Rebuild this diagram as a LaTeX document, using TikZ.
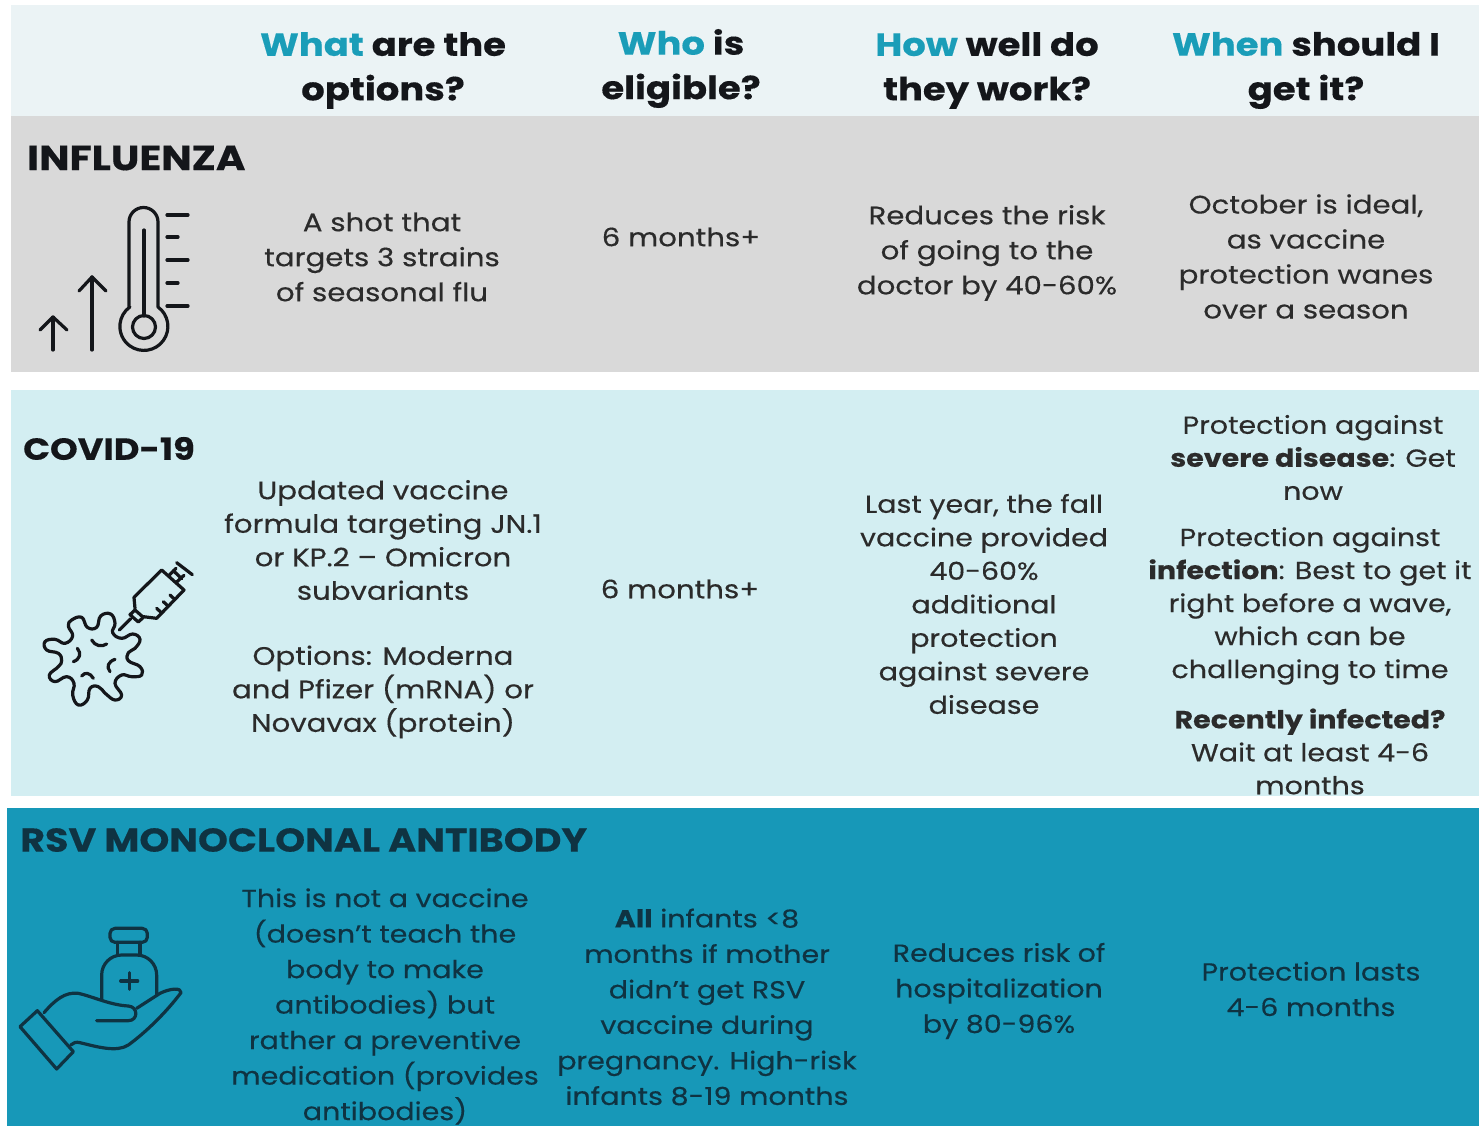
\documentclass[tikz,border=0pt]{standalone}
\usepackage{fontspec}
\setmainfont{Poppins}[FakeStretch=1.155,FakeBold=0.35,BoldFont={Poppins Bold},BoldFeatures={FakeStretch=1.155}]
\definecolor{hdrbg}{HTML}{EBF3F5}
\definecolor{graybg}{HTML}{D9D9D9}
\definecolor{lightbg}{HTML}{D3EEF2}
\definecolor{tealbg}{HTML}{1798B8}
\definecolor{teala}{HTML}{1A9DB8}
\definecolor{ink}{HTML}{2B2B2B}
\definecolor{inkb}{HTML}{14161A}
\definecolor{inkt}{HTML}{0F3342}
\newcommand{\acc}[1]{\textcolor{teala}{#1}}
\tikzset{
  band/.style={fill=#1,draw=none},
  headtxt/.style={align=center,inner sep=0pt,text=inkb,font=\fontsize{32}{44.5}\selectfont\bfseries},
  body/.style={align=center,inner sep=0pt,text=ink,font=\fontsize{25.3}{#1}\selectfont},
  body/.default={35},
  bodyn/.style={align=center,inner sep=0pt,text=ink,font=\fontsize{24.7}{#1}\selectfont},
  bodyn/.default={35.5},
  sect/.style={anchor=west,inner sep=0pt,text=inkb,font=\fontsize{35}{38}\selectfont\bfseries},
  icon/.style={draw=inkb,line width=3.2pt,line cap=round,line join=round},
  iconv/.style={draw=#1,line width=3.2pt,line cap=round,line join=round},
}
\begin{document}
\begin{tikzpicture}[x=1pt,y=-1pt]
\useasboundingbox (0,0) rectangle (1479,1126);
\fill[white] (0,0) rectangle (1479,1126);
\path[band=hdrbg] (11,5) rectangle (1479,116);
\path[band=graybg] (11,116) rectangle (1479,372);
\path[band=lightbg] (11,390) rectangle (1479,796);
\path[band=tealbg] (7,808) rectangle (1479,1126);

% header
\node[headtxt] (h1) at (383,70.5) {\acc{What} are the\\options?};
\node[headtxt] (h2) at (681,68.5) {\acc{Who} is\\eligible?};
\node[headtxt] (h3) at (987,70.5) {\acc{How} well do\\they work?};
\node[headtxt] (h4) at (1306,70.5) {\acc{When} should I\\get it?};

% influenza
\node[sect] (s1) at (27,158) {INFLUENZA};
\node[body] (a1) at (382,257) {A shot that\\targets 3 strains\\of seasonal flu};
\node[body] (b1) at (681,237) {6 months+};
\node[body] (c1) at (987,253) {Reduces the risk\\of going to the\\doctor by 40-60\%};
\node[body] (d1) at (1306,256.5) {October is ideal,\\as vaccine\\protection wanes\\over a season};

% covid
\node[sect,font=\fontsize{30.5}{34}\selectfont\bfseries] (s2) at (23,448.5) {COVID-19};
\node[body=33.5] (a2) at (383,540) {Updated vaccine\\formula targeting JN.1\\or KP.2 – Omicron\\subvariants};
\node[body=33.5] (a3) at (383,692) {Options: Moderna\\and Pfizer (mRNA) or\\Novavax (protein)};
\node[body] (b2) at (680,589) {6 months+};
\node[bodyn=33.5] (c2) at (984,604) {Last year, the fall\\vaccine provided\\40-60\%\\additional\\protection\\against severe\\disease};
\node[bodyn=33] (d2) at (1313,457.5) {Protection against\\\textbf{severe disease}: Get\\now};
\node[bodyn=33] (d3) at (1310,606) {Protection against\\\textbf{infection}: Best to get it\\right before a wave,\\which can be\\challenging to time};
\node[bodyn=33] (d4) at (1310,751.5) {\textbf{Recently infected?}\\Wait at least 4-6\\months};

% rsv
\node[sect,text=inkt,font=\fontsize{33}{36}\selectfont\bfseries] (s3) at (20,840) {RSV MONOCLONAL ANTIBODY};
\node[bodyn,text=inkt] (a4) at (385,1006.5) {This is not a vaccine\\(doesn't teach the\\body to make\\antibodies) but\\rather a preventive\\medication (provides\\antibodies)};
\node[bodyn,text=inkt] (b3) at (707,1007) {\textbf{All} infants <8\\months if mother\\didn't get RSV\\vaccine during\\pregnancy. High-risk\\infants 8-19 months};
\node[bodyn,text=inkt] (c3) at (999,991) {Reduces risk of\\hospitalization\\by 80-96\%};
\node[bodyn,text=inkt] (d5) at (1311,989) {Protection lasts\\4-6 months};

% thermometer icon
\begin{scope}[icon]
  \draw (129,307) -- (129,222) arc[start angle=180,end angle=360,radius=14.5] -- (158,307)
        arc[start angle=-54,end angle=234,radius=24] -- cycle;
  \draw (144,327) circle[radius=11.5];
  \draw (144,230) -- (144,316);
  \draw (167,215) -- (188,215);
  \draw (167,237) -- (178,237);
  \draw (167,260) -- (188,260);
  \draw (167,283) -- (178,283);
  \draw (167,306) -- (188,306);
  \draw (92,350) -- (92,277);
  \draw (79,291) -- (92,277) -- (106,291);
  \draw (53,350) -- (53,317);
  \draw (40,330) -- (53,317) -- (67,330);
\end{scope}

% virus and syringe icon (coordinates in 3x crop units)
\begin{scope}[shift={(0,540)},x=0.33333pt,y=-0.33333pt]
  \draw[icon] plot[smooth cycle,tension=0.75] coordinates {
    (215,240)(245,232)(262,262)(290,262)(302,228)(332,222)(345,250)(338,278)
    (365,295)(398,282)(420,298)(405,325)(385,338)(385,362)(420,380)(425,405)(395,410)(365,405)
    (345,430)(365,465)(345,480)(318,462)(295,440)(270,445)(262,480)(235,495)(218,465)(222,430)
    (200,410)(165,425)(148,405)(175,380)(185,362)(175,340)(140,330)(135,305)(165,298)(195,310)
    (218,288)(205,258)};
  \draw[icon] (275,300) .. controls (285,318) and (305,322) .. (320,312);
  \draw[icon] (232,325) .. controls (245,340) and (240,358) .. (220,365);
  \draw[icon] (345,358) .. controls (325,365) and (318,380) .. (330,395);
  \draw[icon] (245,408) .. controls (255,395) and (270,398) .. (280,415);
  % syringe
  \draw[icon] (358,270) -- (392,236);
  \draw[icon] (390,224) -- (415,246) -- (430,232) -- (405,210) -- cycle;
  \draw[icon] (405,205) -- (402,172) -- (485,90) -- (552,150) -- (470,235) -- (430,230);
  \draw[icon] (508,105) -- (528,85);
  \draw[icon] (530,126) -- (552,106);
  \draw[icon] (520,92) -- (545,116);
  \draw[icon] (530,68) -- (577,104);
  \draw[icon] (470,205) -- (482,216);
  \draw[icon] (490,185) -- (502,196);
  \draw[icon] (510,165) -- (522,176);
\end{scope}

% hand and vial icon (coordinates in 3x crop units)
\begin{scope}[shift={(0,900)},x=0.33333pt,y=-0.33333pt,every path/.style={iconv=inkt}]
  \draw[rounded corners=5pt] (330,85) rectangle (442,127);
  \draw (352,127) -- (352,165);
  \draw (420,127) -- (420,165);
  \draw[rounded corners=20pt] (305,298) -- (305,165) -- (470,165) -- (470,285);
  \draw (388,218) -- (388,268);
  \draw (362,243) -- (413,243);
  \draw (60,380) -- (112,332) -- (220,455) -- (170,507) -- cycle;
  \draw (132,338) .. controls (165,300) and (195,275) .. (235,280)
        .. controls (280,290) and (330,315) .. (385,318)
        .. controls (415,320) and (415,362) .. (385,362) -- (290,362);
  \draw (410,325) -- (480,280) .. controls (510,265) and (545,262) .. (543,278)
        .. controls (500,335) and (440,395) .. (385,435)
        .. controls (350,458) and (290,440) .. (240,428)
        .. controls (228,425) and (220,428) .. (212,435);
\end{scope}
\end{tikzpicture}
\end{document}
